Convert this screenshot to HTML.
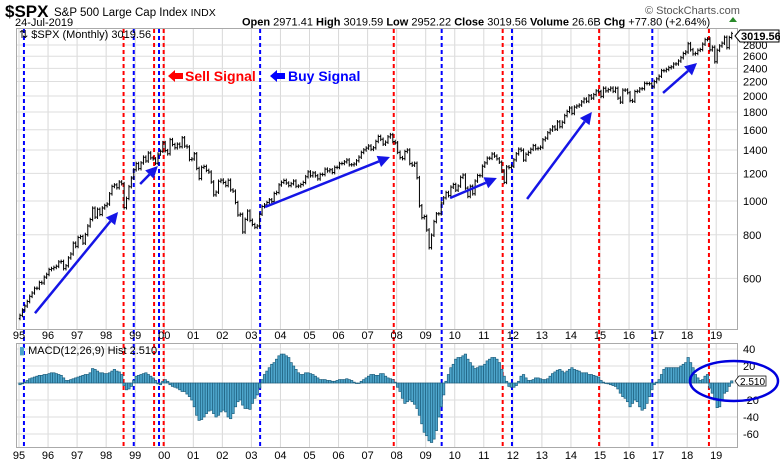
<!DOCTYPE html>
<html><head><meta charset="utf-8">
<style>
html,body{margin:0;padding:0;background:#fff;}
svg{display:block;font-family:"Liberation Sans",sans-serif;}
</style></head>
<body>
<svg id="chart" width="780" height="465" viewBox="0 0 780 465" xmlns="http://www.w3.org/2000/svg">
<g id="grid"></g>
<g id="signals"></g>
<g id="bars"></g>
<g id="hist"></g>
<g id="axes"></g>
<rect x="16.5" y="28.5" width="721" height="301" fill="none" stroke="#aaa"/>
<rect x="16.5" y="343.5" width="721" height="104" fill="none" stroke="#aaa"/>
<text x="5" y="17" font-size="17" font-weight="bold">$SPX</text>
<text x="54" y="16" font-size="11.5">S&amp;P 500 Large Cap Index <tspan font-size="10.5">INDX</tspan></text>
<text x="15" y="26" font-size="11">24-Jul-2019</text>
<text x="645" y="14" font-size="11" fill="#555">© StockCharts.com</text>
<text x="242" y="25.5" font-size="11"><tspan font-weight="bold">Open</tspan> 2971.41  <tspan font-weight="bold">High</tspan> 3019.59  <tspan font-weight="bold">Low</tspan> 2952.22  <tspan font-weight="bold">Close</tspan> 3019.56  <tspan font-weight="bold">Volume</tspan> 26.6B  <tspan font-weight="bold">Chg</tspan> +77.80 (+2.64%)</text>
<polygon points="729,22 737,22 733,17" fill="#2a8a2a"/>
<text x="19" y="38" font-size="11">⇅ $SPX (Monthly) 3019.56</text>
<text x="19" y="354" font-size="11"><tspan fill="#4aa3c9">▮</tspan> MACD(12,26,9) Hist 2.510</text>
<g>
<polygon points="168,76 175,70 175,73 183,73 183,79 175,79 175,82" fill="#f00"/>
<text x="185" y="81" font-size="14" font-weight="bold" fill="#f00">Sell Signal</text></g>
<g>
<polygon points="270,76 277,70 277,73 285,73 285,79 277,79 277,82" fill="#00f"/>
<text x="288" y="81" font-size="14" font-weight="bold" fill="#00f">Buy Signal</text></g>
<g id="arrows"></g>
<g>
<polygon points="735,36 740,30 779,30 779,42 740,42" fill="#fff" stroke="#000"/>
<text x="741" y="40" font-size="11" font-weight="bold">3019.56</text></g>
<g>
<polygon points="735,381 739,376 766,376 766,386 739,386" fill="#fff" stroke="#000" stroke-width="0.7"/>
<text x="740" y="385" font-size="10">2.510</text></g>
<ellipse cx="734" cy="381" rx="44" ry="20" fill="none" stroke="#0000dd" stroke-width="2.5"/>
</svg>
<script>
const closes=[470,487,500,515,533,545,562,562,584,582,605,616,
636,640,645,650,669,671,640,652,687,705,757,741,
786,791,757,801,848,885,954,899,947,915,955,970,
980,1049,1101,1112,1091,1134,1121,957,1017,1099,1164,1229,
1280,1238,1286,1335,1302,1373,1329,1320,1283,1363,1389,1469,
1394,1366,1499,1452,1421,1455,1431,1518,1437,1429,1315,1320,
1366,1240,1160,1249,1256,1224,1211,1134,1041,1060,1139,1148,
1130,1107,1147,1076,1067,990,912,916,815,886,936,880,
856,841,848,917,964,975,990,1008,996,1051,1058,1112,
1131,1145,1126,1107,1121,1141,1102,1104,1115,1130,1174,1212,
1181,1204,1181,1157,1192,1191,1234,1220,1229,1207,1249,1248,
1280,1281,1295,1311,1270,1270,1277,1304,1336,1378,1401,1418,
1438,1407,1421,1482,1531,1503,1455,1474,1527,1549,1481,1468,
1379,1331,1323,1386,1400,1280,1267,1283,1166,969,896,903,
826,735,798,873,919,919,987,1021,1057,1036,1096,1115,
1074,1104,1169,1187,1089,1031,1102,1049,1141,1183,1181,1258,
1286,1327,1326,1364,1345,1321,1292,1219,1131,1253,1247,1258,
1312,1366,1408,1398,1310,1362,1379,1407,1441,1412,1416,1426,
1498,1515,1569,1598,1631,1606,1686,1633,1682,1757,1806,1848,
1783,1859,1872,1884,1924,1960,1931,2003,1972,2018,2068,2059,
1995,2105,2068,2086,2107,2063,2104,1972,1920,2079,2080,2044,
1940,1932,2060,2065,2097,2099,2174,2171,2168,2126,2199,2239,
2279,2364,2363,2384,2412,2423,2470,2472,2519,2575,2648,2674,
2824,2714,2641,2648,2705,2718,2816,2902,2914,2712,2760,2507,
2704,2784,2834,2946,2752,2942,3020];
const macdHist=[-2,-1,1,3,5,6,7,8,9,9,10,10,
11,12,12,11,10,9,6,3,3,4,5,6,
7,8,9,10,10,12,17,16,14,12,12,11,
11,12,14,16,14,13,10,-3,-8,-7,-4,3,
8,9,10,11,12,10,8,6,3,-1,-2,2,
4,2,-2,-4,-5,-6,-8,-10,-10,-13,-16,-20,
-28,-38,-44,-43,-40,-36,-33,-32,-36,-40,-38,-34,
-32,-34,-40,-42,-36,-28,-22,-20,-26,-30,-30,-31,
-24,-18,-14,-6,4,10,14,18,22,24,28,32,
34,34,32,30,24,20,16,12,10,10,12,12,
11,10,8,6,4,4,4,3,3,2,2,3,
4,4,4,5,4,3,1,0,0,2,4,6,
8,10,10,9,9,11,11,8,6,5,4,1,
-5,-10,-18,-24,-22,-20,-22,-25,-30,-38,-48,-58,
-62,-68,-70,-66,-56,-40,-28,-14,2,10,18,22,
28,30,30,32,34,28,24,20,17,18,20,20,
22,26,28,30,30,28,24,16,8,2,-4,-5,
-5,-3,2,8,10,6,3,3,4,6,6,5,
4,4,5,8,11,13,15,16,14,12,14,16,
18,16,15,14,12,12,12,10,10,9,8,7,
3,1,0,-1,-2,-3,-4,-7,-12,-16,-18,-22,
-28,-24,-20,-22,-28,-32,-30,-24,-16,-8,-2,1,
4,10,16,18,18,18,18,18,18,20,22,24,
30,24,18,10,6,3,4,8,10,-6,-12,-20,
-29,-28,-20,-12,-10,-4,2.5];
const priceTicks=[600,800,1000,1200,1400,1600,1800,2000,2200,2400,2600,2800];
const macdTicks=[40,20,-20,-40,-60];
const yearLabels=['95','96','97','98','99','00','01','02','03','04','05','06','07','08','09','10','11','12','13','14','15','16','17','18','19'];
const sellSignals=[1998.6,1999.65,1999.98,2007.9,2011.65,2014.97,2018.75];
const buySignals=[1995.17,1998.95,1999.82,2003.3,2009.55,2011.97,2016.8];
const trendArrows=[[1995.55,477,1998.41,930],[1999.17,1119,1999.78,1260],[2003.47,961,2007.77,1337],[2009.84,1020,2011.45,1164],[2012.49,1013,2014.72,1800],[2017.17,2040,2018.34,2487]];

const NS='http://www.w3.org/2000/svg';
const X0=19,YW=29.05;
const xYear=t=>X0+(t-1995)*YW;
const xMonth=i=>xYear(1995+i/12)+1;
const yPrice=p=>201-151.5*Math.log(p/1000);
const yMacd=v=>383-0.85*v;
function mk(tag,attrs,parent){const e=document.createElementNS(NS,tag);for(const k in attrs)e.setAttribute(k,attrs[k]);parent.appendChild(e);return e;}
const grid=document.getElementById('grid'),axes=document.getElementById('axes');
yearLabels.forEach((lab,i)=>{
  const x=xYear(1995+i);
  const l1=mk('line',{x1:x,x2:x,y1:29,y2:329,stroke:'#d8d8d8'},grid);
  
  
  const l2=mk('line',{x1:x,x2:x,y1:344,y2:447,stroke:'#d8d8d8'},grid);
  
  
  [339,459].forEach(y=>{
    const t=mk('text',{x:x,y:y,'font-size':11,'text-anchor':'middle'},axes);
    t.textContent=lab;
    
    
  });
});
priceTicks.forEach(p=>{
  const y=yPrice(p);
  const l=mk('line',{x1:17,x2:737,y1:y,y2:y,stroke:'#dedede'},grid);
  
  
  const t=mk('text',{x:743,y:y+4,'font-size':11},axes);
  t.textContent=p;
  
  
});
[40,20,0,-20,-40,-60].forEach(v=>{
  const y=yMacd(v);
  const l=mk('line',{x1:17,x2:737,y1:y,y2:y,stroke:'#dedede'},grid);
  
  
});
macdTicks.forEach(v=>{
  const t=mk('text',{x:743,y:yMacd(v)+4,'font-size':11},axes);
  t.textContent=v;
  
  
});
const hist=document.getElementById('hist');
const bw=YW/12;
macdHist.forEach((v,i)=>{
  const x=xMonth(i)-bw/2,y0=yMacd(0),y=yMacd(v);
  const r=mk('rect',{x:x,y:Math.min(y,y0),width:bw,height:Math.max(0.5,Math.abs(y-y0)),fill:'#4ea6cc',stroke:'#1d5f7e','stroke-width':0.7},hist);
  
  
});
const bars=document.getElementById('bars');
closes.forEach((c,i)=>{
  const o=i>0?closes[i-1]:c*0.98;
  const hi=Math.max(o,c)*1.012,lo=Math.min(o,c)*0.988;
  const x=xMonth(i);
  const g=mk('path',{d:`M${x},${yPrice(hi)}V${yPrice(lo)}M${x-1.2},${yPrice(o)}H${x}M${x},${yPrice(c)}H${x+1.2}`,stroke:'#000','stroke-width':1,fill:'none'},bars);
  
  
});
const sig=document.getElementById('signals');
function sigLine(t,color,name){
  const x=xYear(t);
  const l=mk('line',{x1:x,x2:x,y1:29,y2:447,stroke:color,'stroke-width':2,'stroke-dasharray':'4,3'},sig);
  
  
}
sellSignals.forEach(t=>sigLine(t,'#f00','sell-signal-line'));
buySignals.forEach(t=>sigLine(t,'#00f','buy-signal-line'));
const ar=document.getElementById('arrows');
trendArrows.forEach(a=>{
  const x1=xYear(a[0]),y1=yPrice(a[1]),x2=xYear(a[2]),y2=yPrice(a[3]);
  const dx=x2-x1,dy=y2-y1,L=Math.hypot(dx,dy),ux=dx/L,uy=dy/L;
  const bx=x2-ux*12,by=y2-uy*12;
  const g=mk('g',{},ar);
  
  
  mk('line',{x1:x1,y1:y1,x2:bx,y2:by,stroke:'#1515e6','stroke-width':2.5},g);
  mk('polygon',{points:`${x2},${y2} ${bx-uy*6},${by+ux*6} ${bx+uy*6},${by-ux*6}`,fill:'#1515e6'},g);
});
</script>
</body></html>
